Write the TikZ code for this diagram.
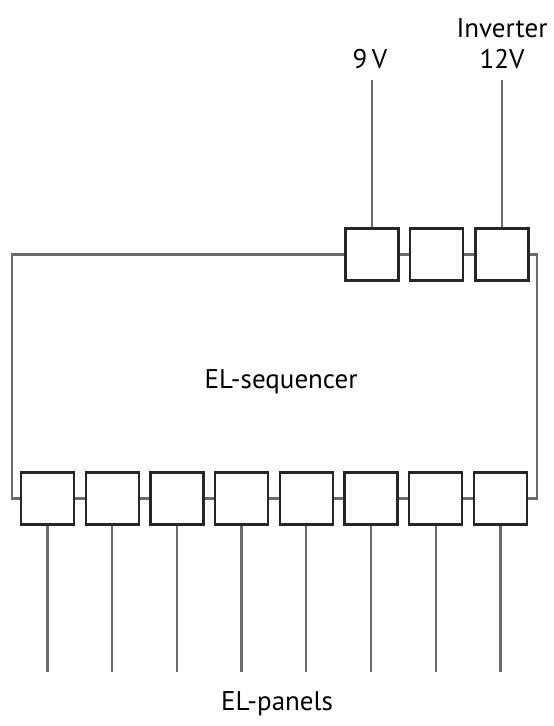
\documentclass[tikz,border=0pt]{standalone}
\usepackage{fontspec}
\setmainfont{PT Sans}
\usetikzlibrary{positioning}

\begin{document}
\begin{tikzpicture}[
  x=1pt, y=-1pt,
  font=\fontsize{27}{32}\selectfont,
  port/.style={draw=black!85, line width=2.4pt, minimum width=53pt, minimum height=52pt, inner sep=0pt, fill=white},
  wire/.style={draw=black!58, line width=2.3pt},
  lbl/.style={inner sep=0pt, align=center}
]
\useasboundingbox (0,0) rectangle (554,726);
% supply ports on top
\node[port] (t1) at (372,254.5) {};
\node[port, right=9pt of t1] (t2) {};
\node[port, right=10pt of t2] (t3) {};
% panel ports at the bottom
\foreach \i in {1,...,8}
  \node[port] (p\i) at ({47.5+(\i-1)*64.7},498.5) {};
% labels
\node[lbl, anchor=south] (nine) at (370,69) {9\,V};
\node[lbl, anchor=south] (inv) at (502,69) {Inverter\\[-1pt]12V};
\node[lbl] (seq) at (281,382) {EL-sequencer};
\node[lbl] (panels) at (277,704) {EL-panels};
\coordinate (lx) at (12,380);
\coordinate (rx) at (537,380);
% wiring
\draw[wire] (t1.north) -- (t1.north |- 0,80);
\draw[wire] (t3.north) -- (t3.north |- 0,80);
\draw[wire] (t1) -- (t2);
\draw[wire] (t2) -- (t3);
\draw[wire] (t1.west) -| (lx) |- (p1.west);
\draw[wire] (t3.east) -| (rx) |- (p8.east);
\foreach \i [count=\j from 2] in {1,...,7}
  \draw[wire] (p\i) -- (p\j);
\foreach \i in {1,...,8} {
  \coordinate (e\i) at (p\i.south |- 0,672);
  \draw[wire] (p\i.south) -- (e\i);
}
\end{tikzpicture}
\end{document}
